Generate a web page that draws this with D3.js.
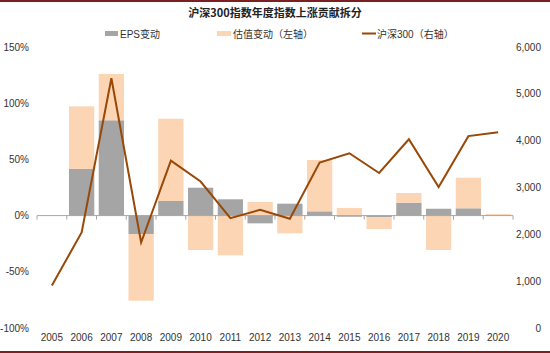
<!DOCTYPE html>
<html>
<head>
<meta charset="utf-8">
<script src="https://cdn.jsdelivr.net/npm/d3@7"></script>
<style>
  body { margin: 0; background: #fff; }
  text { font-family: "Liberation Sans", Arial, "Noto Sans CJK SC", sans-serif; }
</style>
</head>
<body>
<div id="chart"></div>
<script>
(function() {
    const width = 550
    const height = 353

    // data
    const years = ["2005", "2006", "2007", "2008", "2009", "2010", "2011", "2012",
        "2013", "2014", "2015", "2016", "2017", "2018", "2019", "2020"]
    const eps = [0, 41.5, 84.8, -16.4, 13, 24.8, 14.5, -6.9, 10.6, 3.8, -1, -1.5, 11.5, 6.1, 6.5, 0.3]
    const valuation = [0, 55.7, 41.2, -59.3, 73.2, -30.6, -35.3, 12.1, -15.8, 45.7, 6.8, -10.5, 8.6, -30.6, 27.2, 1.1]
    const csi300 = [909, 2039, 5333, 1826, 3575, 3128, 2346, 2523, 2331, 3533, 3731, 3310, 4031, 3011, 4097, 4180]

    const leftTicks = [-100, -50, 0, 50, 100, 150]
    const rightTicks = [0, 1000, 2000, 3000, 4000, 5000, 6000]

    const margin = { top: 47, left: 37, right: 37, bottom: 25 }
    const plotBottom = 328

    const svg = d3.select("#chart")
        .append("svg")
        .attr("width", width)
        .attr("height", height)

    // borders
    svg.append("rect").attr("x", 0).attr("y", 0).attr("width", width).attr("height", 2).attr("fill", "#7b2020")
    svg.append("rect").attr("x", 0).attr("y", 351).attr("width", width).attr("height", 2).attr("fill", "#7b2020")

    const x = d3.scaleBand()
        .domain(years)
        .range([margin.left, width - margin.right])
        .paddingInner(0.15)
        .paddingOuter(0.075)

    const yLeft = d3.scaleLinear().domain([-100, 150]).range([plotBottom, margin.top])
    const yRight = d3.scaleLinear().domain([0, 6000]).range([plotBottom, margin.top])

    // stacked bars, positive and negative stacked separately
    const rows = years.map((yr, i) => ({ year: yr, eps: eps[i], val: valuation[i] }))
    const stack = d3.stack()
        .keys(["eps", "val"])
        .offset(d3.stackOffsetDiverging)
    const series = stack(rows)
    const colors = { eps: "#a5a5a5", val: "#fcd5b5" }

    svg.append("g")
        .selectAll("g")
        .data(series)
        .join("g")
        .attr("fill", d => colors[d.key])
        .selectAll("rect")
        .data(d => d)
        .join("rect")
        .attr("x", d => x(d.data.year))
        .attr("width", x.bandwidth())
        .attr("y", d => yLeft(Math.max(d[0], d[1])))
        .attr("height", d => Math.abs(yLeft(d[0]) - yLeft(d[1])))

    // x axis at 0%
    const xAxis = svg.append("g")
        .attr("transform", `translate(0,${yLeft(0)})`)
    xAxis.append("line")
        .attr("x1", margin.left).attr("x2", width - margin.right)
        .attr("stroke", "#a6a6a6").attr("stroke-width", 1)
    const step = x.step()
    const edges = d3.range(years.length + 1).map(i => margin.left + i * (width - margin.left - margin.right) / years.length)
    xAxis.selectAll("line.tick")
        .data(edges)
        .join("line")
        .attr("class", "tick")
        .attr("x1", d => d).attr("x2", d => d)
        .attr("y1", 0).attr("y2", 4)
        .attr("stroke", "#a6a6a6")

    // year labels at bottom
    svg.append("g")
        .selectAll("text")
        .data(years)
        .join("text")
        .attr("x", d => x(d) + x.bandwidth() / 2)
        .attr("y", 341)
        .attr("text-anchor", "middle")
        .attr("font-size", 10)
        .attr("fill", "#333")
        .text(d => d)

    // left axis labels
    svg.append("g")
        .selectAll("text")
        .data(leftTicks)
        .join("text")
        .attr("x", 29)
        .attr("y", d => yLeft(d) + 3.5)
        .attr("text-anchor", "end")
        .attr("font-size", 10)
        .attr("fill", "#333")
        .text(d => d + "%")

    // right axis labels
    svg.append("g")
        .selectAll("text")
        .data(rightTicks)
        .join("text")
        .attr("x", 541)
        .attr("y", d => yRight(d) + 3.5)
        .attr("text-anchor", "end")
        .attr("font-size", 10)
        .attr("fill", "#333")
        .text(d => d3.format(",")(d))

    // CSI300 line
    const line = d3.line()
        .x((d, i) => x(years[i]) + x.bandwidth() / 2)
        .y(d => yRight(d))
    svg.append("path")
        .datum(csi300)
        .attr("fill", "none")
        .attr("stroke", "#984807")
        .attr("stroke-width", 2)
        .attr("d", line)

    // title
    svg.append("text")
        .attr("x", 275)
        .attr("y", 17)
        .attr("text-anchor", "middle")
        .attr("font-size", 11)
        .attr("font-weight", "bold")
        .attr("fill", "#222")
        .style("font-family", "'Noto Sans CJK SC', sans-serif")
        .text("沪深300指数年度指数上涨贡献拆分")

    // legend
    const legend = svg.append("g").attr("font-size", 10).attr("fill", "#333")
    legend.append("rect").attr("x", 105).attr("y", 31).attr("width", 13).attr("height", 5).attr("fill", colors.eps)
    legend.append("text").attr("x", 120).attr("y", 37.5).text("EPS变动")
    legend.append("rect").attr("x", 217).attr("y", 31).attr("width", 14).attr("height", 5).attr("fill", colors.val)
    legend.append("text").attr("x", 233).attr("y", 37.5).text("估值变动（左轴）")
    legend.append("line").attr("x1", 362).attr("x2", 376).attr("y1", 33.5).attr("y2", 33.5)
        .attr("stroke", "#984807").attr("stroke-width", 2)
    legend.append("text").attr("x", 377).attr("y", 37.5).text("沪深300（右轴）")
})();
</script>
</body>
</html>
